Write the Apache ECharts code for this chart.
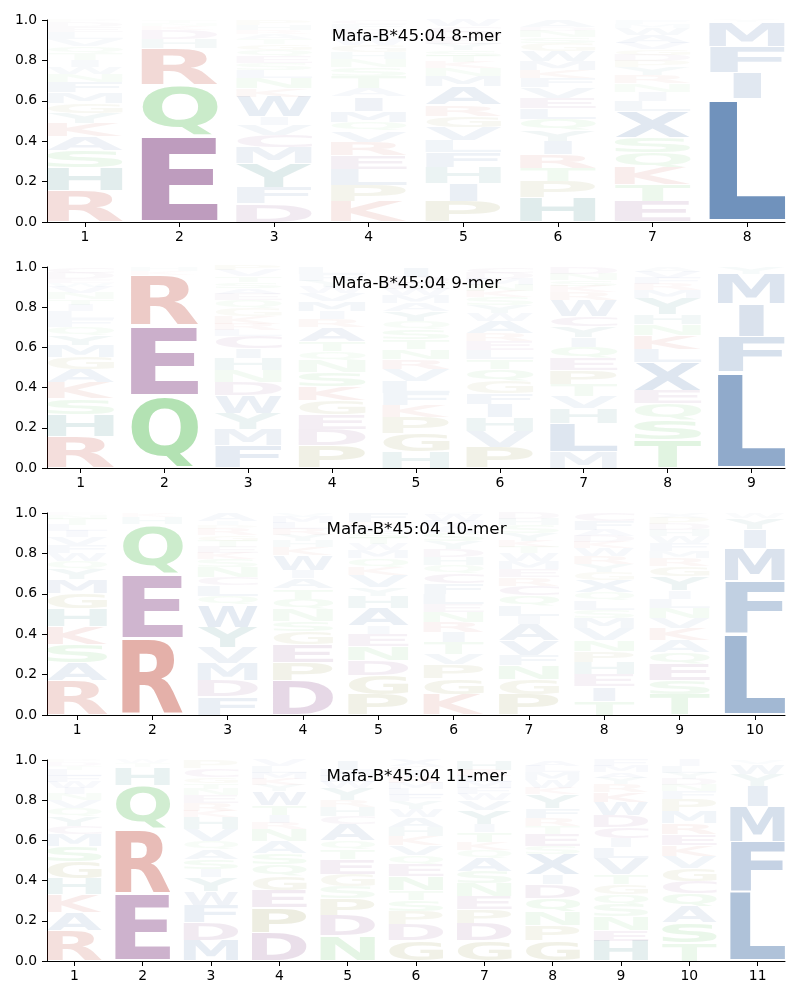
<!DOCTYPE html>
<html><head><meta charset="utf-8">
<script src="https://cdn.jsdelivr.net/npm/echarts@6/dist/echarts.min.js"></script>
<style>html,body{margin:0;padding:0;background:#fff}#c{width:800px;height:1000px}</style>
</head><body><div id="c"></div>
<script>
// ---- data (letters listed bottom-up per position, value = frequency) ----
const titles = ['Mafa-B*45:04 8-mer','Mafa-B*45:04 9-mer','Mafa-B*45:04 10-mer','Mafa-B*45:04 11-mer'];
const yTicks = [0, 0.2, 0.4, 0.6, 0.8, 1.0];

const mer8 = [
 [['R',.155],['H',.115],['S',.085],['A',.07],['K',.065],['Y',.05],['G',.05],['M',.05],['F',.05],['N',.04],['W',.035],['I',.035],['T',.035],['Q',.035],['V',.035],['L',.035],['E',.025],['D',.025],['P',.01]],
 [['E',.43],['Q',.25],['R',.18],['H',.045],['D',.045],['K',.02],['N',.015],['T',.015]],
 [['D',.09],['F',.08],['Y',.12],['M',.08],['C',.06],['V',.05],['I',.04],['W',.10],['K',.04],['N',.05],['L',.04],['S',.035],['E',.035],['Q',.03],['G',.03],['T',.025],['A',.025],['R',.02],['H',.025],['P',.025]],
 [['K',.10],['P',.08],['L',.08],['E',.07],['R',.065],['V',.055],['Q',.045],['M',.055],['I',.07],['A',.04],['T',.06],['S',.045],['N',.04],['H',.035],['G',.035],['W',.03],['Y',.025],['D',.025],['F',.025],['C',.02]],
 [['P',.10],['I',.09],['H',.08],['F',.075],['L',.06],['V',.065],['G',.055],['R',.055],['A',.09],['M',.05],['N',.04],['K',.03],['T',.03],['S',.03],['Y',.03],['E',.03],['D',.03],['C',.03],['W',.03]],
 [['H',.12],['P',.08],['T',.065],['R',.07],['I',.065],['Y',.055],['Q',.055],['L',.055],['E',.05],['V',.05],['F',.045],['K',.04],['M',.045],['W',.05],['G',.04],['S',.03],['N',.03],['D',.02],['A',.035]],
 [['E',.10],['T',.085],['K',.085],['Q',.075],['S',.075],['X',.13],['L',.05],['I',.045],['N',.04],['R',.04],['Y',.04],['P',.03],['D',.03],['G',.03],['V',.03],['A',.04],['W',.035],['M',.02],['F',.02]],
 [['L',.61],['I',.13],['F',.13],['M',.12],['Y',.01]]
];
const mer9 = [
 [['R',.155],['H',.11],['S',.08],['K',.08],['A',.065],['G',.06],['M',.06],['Y',.05],['Q',.04],['F',.04],['L',.04],['I',.03],['T',.03],['N',.03],['V',.03],['W',.02],['E',.02],['D',.03],['C',.03]],
 [['Q',.36],['E',.35],['R',.25],['K',.02],['H',.02]],
 [['F',.11],['M',.08],['Y',.08],['W',.09],['D',.065],['N',.06],['H',.06],['I',.05],['C',.06],['L',.03],['R',.03],['K',.04],['G',.04],['Q',.04],['E',.03],['A',.03],['S',.03],['T',.03],['V',.03],['P',.03]],
 [['P',.11],['D',.08],['E',.075],['G',.07],['K',.07],['S',.07],['N',.06],['Q',.045],['T',.05],['A',.07],['R',.04],['I',.04],['M',.05],['V',.04],['W',.03],['Y',.03],['F',.035],['L',.035]],
 [['H',.08],['G',.09],['P',.08],['K',.06],['F',.06],['L',.06],['V',.06],['R',.05],['N',.05],['T',.05],['S',.05],['Q',.04],['Y',.05],['A',.04],['M',.04],['W',.03],['E',.03],['D',.03],['I',.05]],
 [['P',.10],['V',.08],['H',.07],['I',.065],['F',.055],['G',.06],['Q',.06],['T',.05],['L',.045],['E',.045],['R',.04],['A',.06],['W',.04],['Y',.04],['S',.04],['K',.03],['N',.03],['M',.03],['D',.03],['C',.03]],
 [['M',.08],['L',.14],['H',.075],['V',.06],['T',.06],['P',.07],['E',.06],['Q',.055],['I',.05],['Y',.055],['C',.05],['W',.08],['R',.04],['K',.03],['S',.03],['N',.03],['D',.035]],
 [['T',.14],['S',.10],['Q',.08],['E',.065],['X',.14],['L',.065],['K',.07],['N',.055],['H',.05],['Y',.08],['M',.04],['R',.03],['F',.03],['V',.03],['A',.025]],
 [['L',.48],['F',.175],['I',.16],['M',.15],['Y',.035]]
];
const mer10 = [
 [['R',.17],['A',.09],['S',.09],['K',.09],['H',.085],['G',.075],['M',.07],['Y',.05],['Q',.04],['W',.04],['F',.04],['V',.04],['I',.03],['L',.03],['T',.03],['N',.02],['E',.01]],
 [['R',.38],['E',.32],['Q',.245],['H',.035],['K',.02]],
 [['F',.09],['D',.08],['M',.085],['V',.08],['Y',.10],['W',.11],['Q',.045],['L',.05],['C',.04],['N',.05],['S',.04],['K',.03],['E',.03],['T',.03],['G',.03],['R',.03],['P',.02],['I',.02],['A',.04]],
 [['D',.17],['P',.09],['E',.09],['G',.065],['S',.05],['N',.06],['Q',.05],['T',.05],['A',.05],['I',.04],['W',.075],['K',.04],['H',.03],['Y',.03],['R',.03],['L',.03],['M',.03],['V',.02]],
 [['P',.10],['G',.095],['D',.075],['N',.07],['E',.06],['I',.04],['A',.09],['H',.06],['Y',.04],['V',.06],['K',.04],['Q',.045],['M',.04],['W',.03],['T',.03],['S',.03],['L',.03],['R',.02],['F',.045]],
 [['K',.10],['G',.08],['P',.07],['V',.05],['T',.06],['I',.05],['R',.05],['N',.05],['E',.04],['L',.05],['F',.05],['C',.05],['Q',.04],['H',.04],['D',.04],['Y',.04],['S',.04],['A',.03],['M',.03],['W',.03],['X',.01]],
 [['P',.10],['G',.075],['N',.07],['F',.05],['V',.075],['A',.08],['I',.04],['L',.05],['Q',.05],['C',.05],['R',.04],['E',.04],['M',.04],['W',.04],['T',.03],['K',.03],['Y',.04],['S',.04],['H',.03],['D',.03]],
 [['T',.07],['I',.07],['E',.06],['H',.06],['P',.055],['N',.055],['V',.06],['M',.05],['S',.04],['L',.045],['Q',.04],['X',.06],['G',.04],['Y',.04],['R',.04],['W',.04],['K',.03],['D',.03],['A',.03],['F',.045],['C',.04]],
 [['T',.10],['S',.07],['E',.08],['Q',.06],['A',.06],['K',.06],['V',.05],['N',.05],['L',.045],['I',.04],['Y',.07],['G',.05],['R',.04],['M',.035],['F',.04],['W',.035],['H',.03],['D',.03],['P',.03],['X',.025]],
 [['L',.40],['F',.265],['M',.16],['I',.095],['Y',.055],['W',.025]]
];
const mer11 = [
 [['R',.15],['A',.09],['K',.09],['H',.08],['G',.085],['S',.075],['M',.06],['C',.04],['Y',.05],['Q',.04],['V',.04],['N',.03],['I',.03],['W',.03],['F',.03],['L',.03],['T',.02],['D',.02],['P',.01]],
 [['E',.335],['R',.32],['Q',.22],['H',.088],['T',.02],['W',.017]],
 [['M',.10],['D',.09],['F',.085],['W',.07],['Y',.07],['I',.04],['S',.05],['A',.05],['Q',.04],['V',.06],['H',.06],['K',.03],['R',.04],['E',.04],['N',.03],['T',.03],['G',.03],['C',.045],['P',.04]],
 [['D',.14],['P',.125],['E',.085],['G',.07],['Q',.06],['S',.055],['A',.06],['N',.06],['R',.03],['I',.04],['T',.05],['W',.07],['Y',.03],['K',.03],['M',.03],['L',.035],['V',.03]],
 [['N',.125],['D',.10],['P',.085],['S',.06],['G',.06],['E',.075],['T',.05],['Q',.045],['A',.08],['C',.04],['H',.045],['R',.035],['Y',.06],['W',.03],['L',.03],['M',.03],['I',.05]],
 [['G',.10],['D',.08],['P',.065],['S',.055],['T',.05],['N',.07],['E',.06],['Q',.045],['V',.05],['K',.045],['H',.045],['A',.05],['W',.04],['Y',.04],['F',.03],['L',.03],['M',.03],['R',.03],['I',.03],['C',.025],['X',.03]],
 [['G',.10],['D',.085],['P',.07],['E',.065],['N',.065],['S',.06],['A',.065],['Q',.04],['K',.04],['T',.05],['I',.04],['Y',.07],['V',.05],['W',.03],['F',.03],['M',.03],['L',.03],['R',.03],['H',.05]],
 [['G',.10],['P',.075],['N',.07],['Q',.065],['D',.07],['I',.05],['X',.10],['S',.04],['E',.06],['T',.04],['R',.04],['F',.05],['Y',.07],['K',.03],['W',.04],['M',.04],['L',.03],['A',.03]],
 [['H',.10],['E',.055],['N',.065],['S',.06],['Q',.05],['G',.05],['T',.05],['V',.08],['L',.055],['I',.045],['C',.055],['D',.06],['W',.065],['K',.05],['R',.04],['Y',.03],['A',.03],['M',.03],['F',.03]],
 [['T',.09],['S',.10],['A',.08],['Q',.065],['C',.06],['G',.065],['V',.06],['K',.055],['E',.055],['R',.055],['M',.06],['P',.06],['F',.04],['N',.03],['D',.03],['Y',.03],['L',.035],['I',.03]],
 [['L',.345],['F',.25],['M',.175],['I',.10],['Y',.06],['W',.05],['V',.02]]
];

// ---- colours per residue group ----
const groupColors = {
  blue:   [22, 77, 146],
  teal:   [0, 100, 100],
  red:    [184, 47, 30],
  purple: [105, 25, 105],
  green:  [45, 175, 45],
  olive:  [115, 115, 15]
};
const letterGroup = {A:'blue',F:'blue',I:'blue',L:'blue',M:'blue',V:'blue',W:'blue',X:'blue',
  H:'teal',Y:'teal',K:'red',R:'red',C:'purple',D:'purple',E:'purple',
  N:'green',Q:'green',S:'green',T:'green',G:'olive',P:'olive'};

// ---- layout ----
const panels = [mer8, mer9, mer10, mer11];
const gridTops = [20, 267, 513, 760];
const gridHeights = [202, 201, 202, 201];
const LETTER_W = 0.8, VPAD = 0.05;
const LETTERS = 'ACDEFGHIKLMNPQRSTVWXY';
const FONT = 'bold 100px "DejaVu Sans"';

const ctx = document.createElement('canvas').getContext('2d');
ctx.font = FONT; ctx.textAlign = 'left'; ctx.textBaseline = 'middle';
const metrics = {};
function measure(ch) {
  if (!metrics[ch]) {
    const m = ctx.measureText(ch);
    metrics[ch] = {l: m.actualBoundingBoxLeft, r: m.actualBoundingBoxRight,
                   a: m.actualBoundingBoxAscent, d: m.actualBoundingBoxDescent};
  }
  return metrics[ch];
}

function renderItem(params, api) {
  const pos = api.value(0), y0 = api.value(1), y1 = api.value(2);
  const ch = LETTERS[api.value(3)], f = api.value(4);
  const h = y1 - y0;
  const pBL = api.coord([pos - LETTER_W / 2, y0 + h * VPAD / 2]);
  const pTR = api.coord([pos + LETTER_W / 2, y1 - h * VPAD / 2]);
  const colW = pTR[0] - pBL[0], bottom = pBL[1], top = pTR[1];
  const m = measure(ch), e = measure('E');
  const gw = m.l + m.r, gh = m.a + m.d;
  const sx = Math.min(colW / gw, colW / (e.l + e.r));
  const sy = (bottom - top) / gh;
  const w = gw * sx;
  const left = (pBL[0] + pTR[0]) / 2 - w / 2;
  const c = groupColors[letterGroup[ch]];
  const fill = 'rgba(' + c[0] + ',' + c[1] + ',' + c[2] + ',' + Math.min(1, f).toFixed(3) + ')';
  return {
    type: 'text', silent: true,
    x: left + m.l * sx, y: top + m.a * sy, scaleX: sx, scaleY: sy,
    style: {text: ch, x: 0, y: 0, font: FONT, fill: fill, textFill: fill,
            align: 'left', verticalAlign: 'middle', textAlign: 'left', textVerticalAlign: 'middle'}
  };
}

const grid = [], xAxis = [], yAxis = [], series = [], title = [];
panels.forEach((cols, i) => {
  const n = cols.length;
  const ticks = cols.map((_, k) => k + 1);
  grid.push({left: 47, width: 738, top: gridTops[i], height: gridHeights[i], containLabel: false});
  xAxis.push({type: 'value', gridIndex: i, min: 0.6, max: n + 0.4,
    axisLine: {show: true, onZero: false, lineStyle: {color: '#000', width: 1}},
    axisTick: {show: true, customValues: ticks, length: 5, lineStyle: {color: '#000', width: 1}},
    axisLabel: {customValues: ticks, color: '#000', fontSize: 13.9, fontFamily: 'DejaVu Sans', margin: 8},
    splitLine: {show: false}});
  yAxis.push({type: 'value', gridIndex: i, min: 0, max: 1, interval: 0.2,
    axisLine: {show: true, onZero: false, lineStyle: {color: '#000', width: 1}},
    axisTick: {show: true, length: 5, lineStyle: {color: '#000', width: 1}},
    axisLabel: {color: '#000', fontSize: 13.9, fontFamily: 'DejaVu Sans', margin: 10,
                formatter: v => v.toFixed(1)},
    splitLine: {show: false}});
  const data = [];
  cols.forEach((stack, k) => {
    let y = 0;
    stack.forEach(([ch, v]) => {
      data.push([k + 1, y, y + v, LETTERS.indexOf(ch), v]);
      y += v;
    });
  });
  series.push({type: 'custom', xAxisIndex: i, yAxisIndex: i, renderItem: renderItem,
    data: data, encode: {x: 0, y: [1, 2]}, silent: true, animation: false});
  title.push({text: titles[i], left: 416.5, textAlign: 'center', top: gridTops[i] + 16.5 - 10,
    padding: 0, textStyle: {fontSize: 16.7, fontWeight: 'normal', fontFamily: 'DejaVu Sans',
    color: '#000', lineHeight: 20}});
});

const chart = echarts.init(document.getElementById('c'), null, {renderer: 'canvas'});
chart.setOption({animation: false, backgroundColor: '#fff', title, grid, xAxis, yAxis, series});
</script></body></html>
